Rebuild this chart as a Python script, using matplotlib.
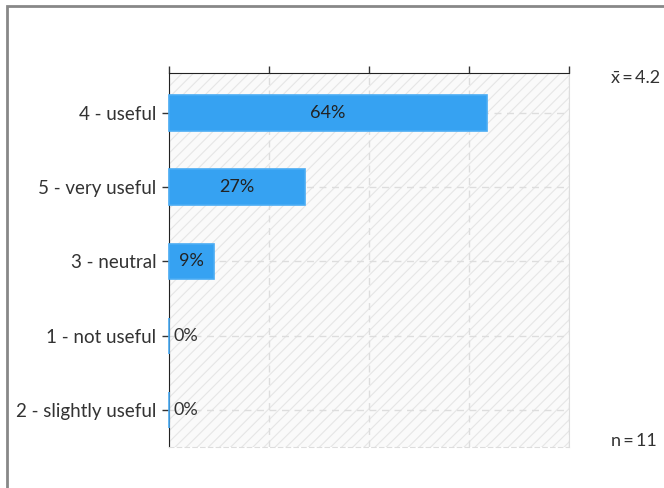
import numpy as np
import matplotlib
matplotlib.use("Agg")
import matplotlib.pyplot as plt
from matplotlib.patches import Rectangle

# answers, sorted as in the chart (top to bottom)
labels = ["4 - useful", "5 - very useful", "3 - neutral", "1 - not useful", "2 - slightly useful"]
counts = [7, 3, 1, 0, 0]
n_total = 11
mean_val = 4.2
x_ticks = [0, 20, 40, 60, 80]

pct = [100.0 * c / n_total for c in counts]

plt.rcParams['font.family'] = ['Lato', 'DejaVu Sans']
plt.rcParams['hatch.color'] = '#e6e6e6'
plt.rcParams['hatch.linewidth'] = 0.8

fig = plt.figure(figsize=(6.64, 4.88), dpi=100)
ax = fig.add_axes([169 / 664, 1 - 447 / 488, 400 / 664, 374 / 488])

# frame round the whole panel (only left & top visible)
fig.patches.append(Rectangle((7 / 664, -0.1), 1.2, 1 - 6 / 488 + 0.1, transform=fig.transFigure,
                             fill=False, edgecolor='#888888', linewidth=2, clip_on=False))

ax.set_facecolor('#fafafa')
ax.patch.set_hatch('///')
ax.patch.set_edgecolor('#e6e6e6')

y = np.arange(len(labels))
ax.barh(y, pct, height=0.48, color='#36a2f2', edgecolor='#4aacf4', linewidth=1.2, zorder=3,
        clip_on=False)

for yi, p in zip(y, pct):
    txt = "%d%%" % round(p)
    if p > 0:
        ax.text(p / 2, yi, txt, ha='center', va='center', fontsize=13, color='#222222', zorder=4)
    else:
        ax.text(1.0, yi, txt, ha='left', va='center', fontsize=13, color='#333333', zorder=4)

ax.set_xlim(0, 80)
ax.set_ylim(len(labels) - 0.5, -0.54)
ax.set_yticks(y)
ax.set_yticklabels(labels, fontsize=13.5, color='#333333')
ax.set_xticks(x_ticks)
ax.xaxis.tick_top()
ax.tick_params(axis='x', labeltop=False, length=5, width=1, color='#333333')
ax.tick_params(axis='y', length=5, width=1, color='#333333', pad=4)

ax.grid(True, color='#dddddd', linestyle=(0, (5, 4)), linewidth=1, zorder=1)
ax.set_axisbelow(True)

ax.spines['top'].set_color('#222222')
ax.spines['left'].set_color('#222222')
ax.spines['left'].set_zorder(2)
ax.spines['right'].set_color('#dddddd')
ax.spines['bottom'].set_color('#dddddd')
ax.spines['bottom'].set_linestyle((0, (4, 3)))

fig.text(611 / 664, 1 - 78 / 488, "x\u0304\u2009=\u2009%s" % mean_val, fontsize=13,
         color='#333333', va='center', ha='left')
fig.text(611 / 664, 1 - 441 / 488, "n\u2009=\u2009%d" % n_total, fontsize=13, color='#333333',
         va='center', ha='left')

fig.savefig("out.png", dpi=100)
